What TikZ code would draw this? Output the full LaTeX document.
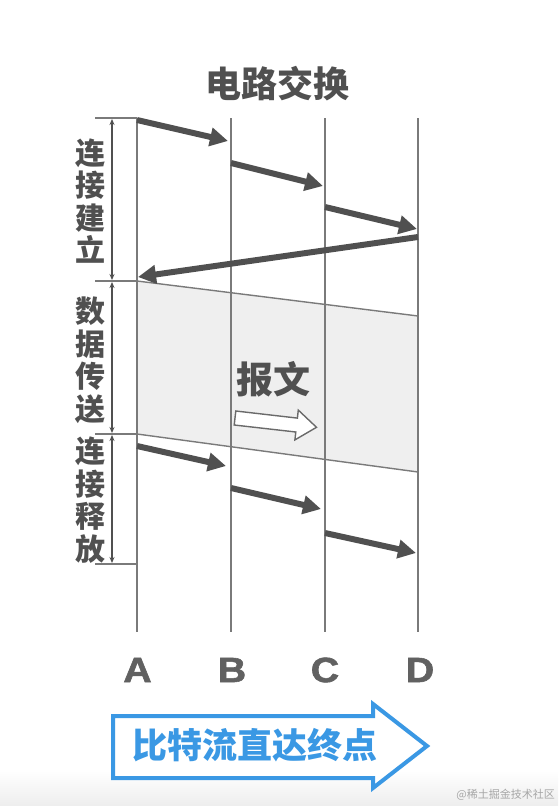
\documentclass[tikz,border=0pt]{standalone}
\usepackage{fontspec}
\newfontfamily\cjk{Noto Sans CJK SC}
\newfontfamily\latinb[BoldFeatures={FakeBold=1.6}]{Liberation Sans}
\usetikzlibrary{arrows.meta}
\definecolor{dark}{HTML}{505050}
\definecolor{linegray}{HTML}{7A7A7A}
\definecolor{regiongray}{HTML}{EFEFEF}
\definecolor{blueA}{HTML}{3A98E4}
\begin{document}
\begin{tikzpicture}[x=1pt,y=-1pt,
  vline/.style={draw=linegray, line width=1.8pt},
  edge/.style={draw=linegray, line width=1.4pt},
  tick/.style={draw=linegray, line width=1.4pt},
  dim/.style={draw=dark, line width=1.2pt, {Stealth[length=6pt,width=5pt]}-{Stealth[length=6pt,width=5pt]}},
  flow/.style={draw=dark, line width=6pt, -{Triangle[length=18pt,width=18pt]}},
  sidelabel/.style={inner sep=0pt, align=center, text=dark, font=\cjk\bfseries\fontsize{30}{32.5}\selectfont},
  letter/.style={inner sep=0pt, text=dark!90, font=\latinb\bfseries\fontsize{35}{38}\selectfont}]
\useasboundingbox (0,0) rectangle (558,806);
\fill[white] (0,0) rectangle (558,806);
\shade[top color=white, bottom color=black!7] (0,770) rectangle (558,806);

% coordinates of the four stations
\coordinate (Atop) at (137,118); \coordinate (Abot) at (137,632);
\coordinate (Btop) at (231,118); \coordinate (Bbot) at (231,632);
\coordinate (Ctop) at (325,118); \coordinate (Cbot) at (325,632);
\coordinate (Dtop) at (418,118); \coordinate (Dbot) at (418,632);

% data transfer region
\coordinate (r1) at (137,281); \coordinate (r2) at (418,316);
\coordinate (r3) at (418,472); \coordinate (r4) at (137,434);
\fill[regiongray] (r1) -- (r2) -- (r3) -- (r4) -- cycle;
\draw[edge] (r1) -- (r2);
\draw[edge] (r4) -- (r3);

% vertical lines
\draw[vline] (Atop) -- (Abot);
\draw[vline] (Btop) -- (Bbot);
\draw[vline] (Ctop) -- (Cbot);
\draw[vline] (Dtop) -- (Dbot);

% left brackets
\coordinate (t1) at (95,118);  \coordinate (t1e) at (137,118);
\coordinate (t2) at (95,281);  \coordinate (t2e) at (137,281);
\coordinate (t3) at (95,434);  \coordinate (t3e) at (137,434);
\coordinate (t4) at (95,564);  \coordinate (t4e) at (137,564);
\draw[tick] (t1) -- (t1e);
\draw[tick] (t2) -- (t2e);
\draw[tick] (t3) -- (t3e);
\draw[tick] (t4) -- (t4e);
\coordinate (d1) at (112,119); \coordinate (d2) at (112,280);
\coordinate (d3) at (112,282); \coordinate (d4) at (112,433);
\coordinate (d5) at (112,435); \coordinate (d6) at (112,563);
\draw[dim] (d1) -- (d2);
\draw[dim] (d3) -- (d4);
\draw[dim] (d5) -- (d6);

\node[sidelabel] (lab1) at (90,201) {连\\接\\建\\立};
\node[sidelabel] (lab2) at (90,360) {数\\据\\传\\送};
\node[sidelabel] (lab3) at (90,500) {连\\接\\释\\放};

% title
\node[inner sep=0pt, text=dark, font=\cjk\bfseries\fontsize{36}{40}\selectfont] (title) at (277,84) {电路交换};

% connection setup arrows
\coordinate (s1a) at (137,120); \coordinate (s1b) at (228,141);
\coordinate (s2a) at (231,163); \coordinate (s2b) at (323,186);
\coordinate (s3a) at (325,207); \coordinate (s3b) at (417,229);
\coordinate (s4a) at (418,237); \coordinate (s4b) at (138,277);
\draw[flow] (s1a) -- (s1b);
\draw[flow] (s2a) -- (s2b);
\draw[flow] (s3a) -- (s3b);
\draw[flow] (s4a) -- (s4b);

% release arrows
\coordinate (e1a) at (137,446); \coordinate (e1b) at (226,466);
\coordinate (e2a) at (231,488); \coordinate (e2b) at (321,509);
\coordinate (e3a) at (325,533); \coordinate (e3b) at (416,553);
\draw[flow] (e1a) -- (e1b);
\draw[flow] (e2a) -- (e2b);
\draw[flow] (e3a) -- (e3b);

% message
\node[inner sep=0pt, text=dark, font=\cjk\bfseries\fontsize{37}{40}\selectfont] (msg) at (273,379) {报文};
\draw[draw=dark!85, line width=1.4pt, fill=white, line join=miter]
  (235.8,411.0) -- (297.4,418.1) -- (298.3,410.1) -- (316.5,427.3)
  -- (294.9,439.9) -- (295.8,432.0) -- (234.2,425.0) -- cycle;

% station letters
\node[letter] (LA) at (137.5,670) {\scalebox{1.12}[1]{A}};
\node[letter] (LB) at (232,670) {\scalebox{1.12}[1]{B}};
\node[letter] (LC) at (325,670) {\scalebox{1.12}[1]{C}};
\node[letter] (LD) at (420,670) {\scalebox{1.12}[1]{D}};

% blue arrow
\draw[draw=blueA, line width=4pt, fill=white, line join=miter]
  (113,716) -- (373,716) -- (373,704) -- (427,746) -- (373,788) -- (373,778) -- (113,778) -- cycle;
\node[inner sep=0pt, text=blueA, font=\cjk\bfseries\fontsize{35}{38}\selectfont] (bits) at (255,745) {比特流直达终点};

% watermark
\node[anchor=east, inner sep=0pt, text=black!35, font=\cjk\fontsize{11}{12}\selectfont] (wm) at (555,795) {@稀土掘金技术社区};
\end{tikzpicture}
\end{document}
